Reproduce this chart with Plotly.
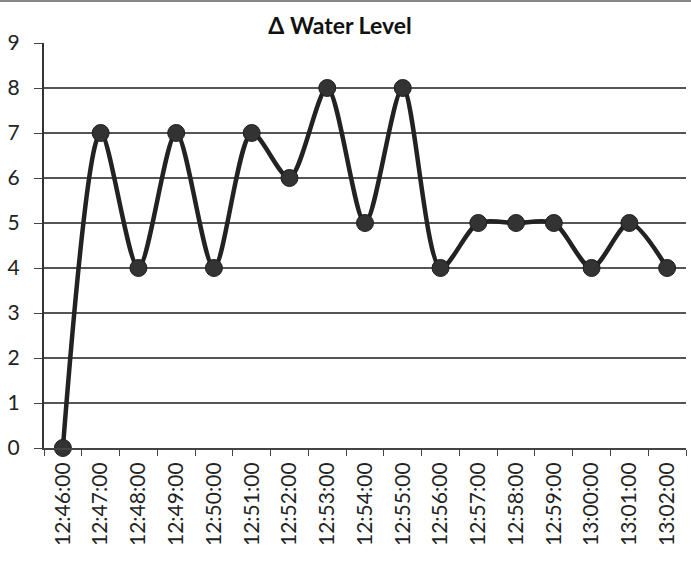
import plotly.graph_objects as go

times = ["12:46:00", "12:47:00", "12:48:00", "12:49:00", "12:50:00", "12:51:00",
         "12:52:00", "12:53:00", "12:54:00", "12:55:00", "12:56:00", "12:57:00",
         "12:58:00", "12:59:00", "13:00:00", "13:01:00", "13:02:00"]
water_delta = [0, 7, 4, 7, 4, 7, 6, 8, 5, 8, 4, 5, 5, 5, 4, 5, 4]
y_ticks = [0, 1, 2, 3, 4, 5, 6, 7, 8, 9]

fig = go.Figure()
fig.add_trace(go.Scatter(
    x=times, y=water_delta, mode="lines+markers",
    line=dict(color="#222222", width=4.5, shape="spline", smoothing=0.8),
    marker=dict(size=17, color="#333333", line=dict(color="#1e1e1e", width=1)),
    cliponaxis=False, showlegend=False,
))

fig.update_layout(
    width=691, height=562,
    margin=dict(l=44, r=5, t=43, b=114),
    paper_bgcolor="white", plot_bgcolor="white",
    font=dict(family="Lato, Open Sans, sans-serif", color="#222222"),
    title=dict(text="<b>Δ Water Level</b>", x=340 / 691, xanchor="center",
               y=1 - 26 / 562, yanchor="middle",
               font=dict(size=23, color="#111111")),
    shapes=[dict(type="line", xref="paper", yref="paper", x0=-0.07, x1=1.01,
                 y0=1 + 42 / 405, y1=1 + 42 / 405,
                 line=dict(color="#888888", width=2))],
)
fig.update_xaxes(
    type="category", range=[-0.5, 16.5],
    tickangle=-90, tickfont=dict(size=21, color="#222222"),
    ticks="outside", ticklen=6, tickcolor="#444444", tickson="boundaries",
    ticklabelstandoff=4,
    showline=True, linecolor="#444444", linewidth=2,
    showgrid=False, automargin=False,
)
fig.update_yaxes(
    range=[0, 9], tickvals=y_ticks,
    tickfont=dict(size=21, color="#222222"),
    ticks="outside", ticklen=8, tickcolor="#444444",
    ticklabelstandoff=10,
    showline=True, linecolor="#333333", linewidth=2,
    showgrid=True, gridcolor="#555555", gridwidth=1.5,
    zeroline=False, automargin=False,
)
fig.write_html("out.html")
